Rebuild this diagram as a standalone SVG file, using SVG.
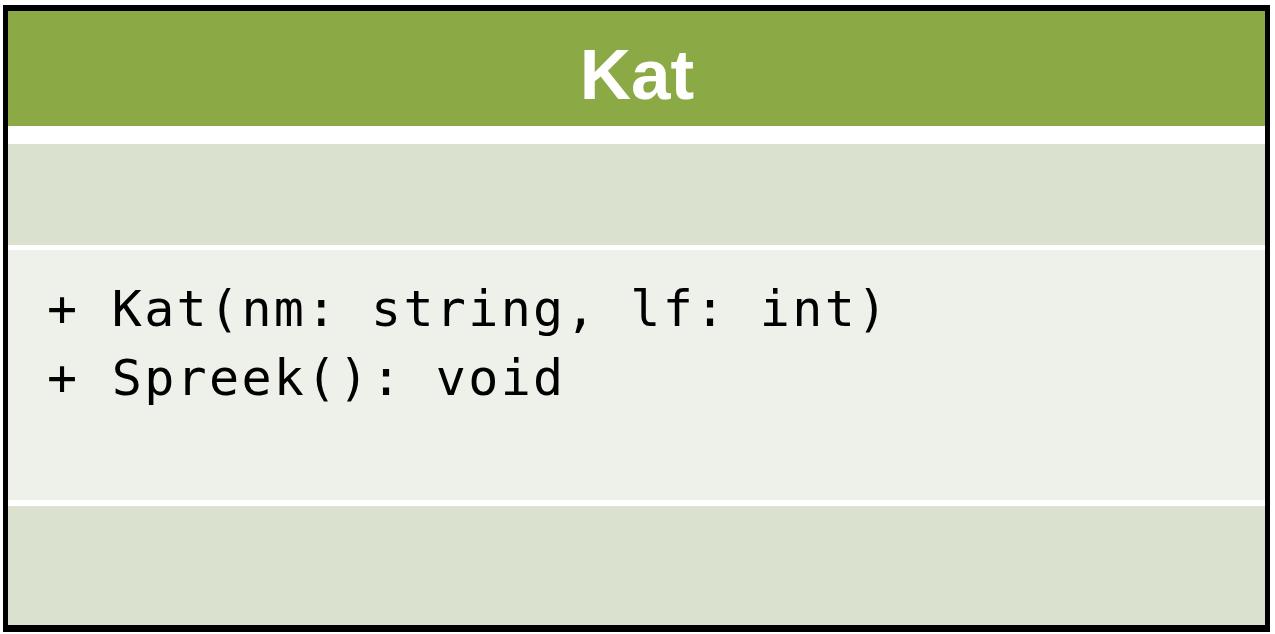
<svg xmlns="http://www.w3.org/2000/svg" width="1275" height="634" viewBox="0 0 1275 634">
  <style>
    .title { font-family: "Liberation Sans", Arial, sans-serif; font-weight: bold; font-size: 71px; fill: #ffffff; }
    .member { font-family: "DejaVu Sans Mono", "Liberation Mono", monospace; font-size: 50px; letter-spacing: 2.3px; fill: #000000; }
    .band1 { fill: #dae1cf; }
    .band2 { fill: #eef0ea; }
  </style>
  <rect x="0" y="0" width="1275" height="634" fill="#ffffff"/>
  <g id="class-Kat">
    <rect x="3" y="5" width="1267" height="627" fill="#000000"/>
    <rect x="8" y="11" width="1257" height="614" fill="#ffffff"/>
    <rect x="8" y="11" width="1257" height="115" fill="#8baa45"/>
    <text class="title" x="637" y="99" text-anchor="middle">Kat</text>
    <rect class="band1" x="8" y="144" width="1257" height="101"/>
    <rect class="band2" x="8" y="250" width="1257" height="250"/>
    <text class="member" x="47" y="326">+ Kat(nm: string, lf: int)</text>
    <text class="member" x="47" y="395">+ Spreek(): void</text>
    <rect class="band1" x="8" y="506" width="1257" height="119"/>
  </g>
  <g id="connectors"/>
</svg>
